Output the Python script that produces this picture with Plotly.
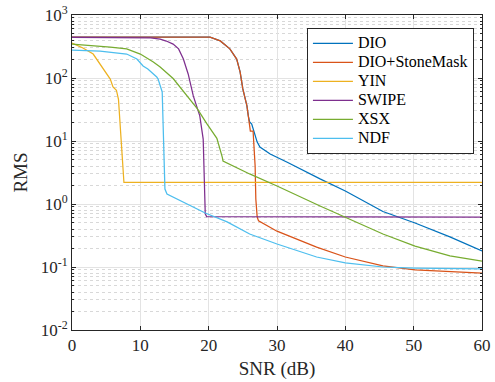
import plotly.graph_objects as go

# ---- data ----
dio_x = [0, 20, 20.2, 21.7, 23.1, 24.1, 24.6, 25.0, 25.6, 25.8, 26.0, 26.3, 26.5, 27.1, 27.5, 29, 31.5, 33.4, 36.3, 40, 45.5, 50.2, 55.3, 60]
dio_y = [447, 447, 445, 388, 290, 200, 125, 67, 36, 25, 20, 18.6, 15.5, 9.6, 8.0, 6.2, 4.6, 3.6, 2.5, 1.61, 0.76, 0.50, 0.30, 0.18]

dsm_x = [0, 20, 20.2, 21.7, 23.1, 24.1, 24.6, 25.0, 25.6, 25.8, 26.1, 26.5, 26.8, 26.9, 27.1, 27.3, 30, 35.8, 40, 45.5, 50.2, 60]
dsm_y = [447, 447, 445, 388, 290, 200, 125, 67, 36, 25, 14.4, 14.4, 4.0, 1.2, 0.62, 0.54, 0.37, 0.207, 0.144, 0.104, 0.090, 0.080]

yin_x = [0, 1.6, 3.1, 4.1, 4.8, 5.6, 6.0, 6.5, 6.8, 7.1, 7.4, 7.6, 60]
yin_y = [360, 299, 240, 167, 129, 96, 72, 64, 46, 13.9, 4.0, 2.2, 2.2]

swipe_x = [0, 10, 11.5, 12.9, 13.8, 14.8, 15.6, 16.3, 17.0, 17.75, 18.7, 19.2, 19.4, 19.5, 19.7, 60]
swipe_y = [440, 440, 435, 415, 386, 345, 290, 200, 116, 52, 25, 10.7, 1.7, 0.7, 0.63, 0.62]

xsx_x = [0, 2.6, 4.1, 5.6, 8.0, 10, 11.9, 12.9, 14.8, 16.3, 18.3, 19.7, 21.2, 22.0, 22.1, 26, 30, 36.3, 40, 45.5, 50.2, 55.3, 60]
xsx_y = [346, 333, 322, 310, 290, 240, 180, 150, 98, 62, 33, 19, 11, 5.5, 4.8, 3.0, 1.93, 0.93, 0.62, 0.334, 0.215, 0.15, 0.124]

ndf_x = [0, 4.1, 8.0, 9.5, 10.4, 11.1, 12.4, 12.6, 13.2, 13.3, 13.5, 13.55, 13.6, 13.9, 16.8, 19.5, 22.7, 26, 30, 35.8, 40, 45.5, 50.2, 60]
ndf_y = [278, 268, 240, 200, 155, 139, 104, 96, 60, 25, 7.5, 2.2, 1.73, 1.44, 1.0, 0.72, 0.52, 0.334, 0.232, 0.144, 0.116, 0.100, 0.096, 0.093]

names = ["DIO", "DIO+StoneMask", "YIN", "SWIPE", "XSX", "NDF"]
colors = ["#0072BD", "#D95319", "#EDB120", "#7E2F8E", "#77AC30", "#4DBEEE"]
series = [(dio_x, dio_y), (dsm_x, dsm_y), (yin_x, yin_y), (swipe_x, swipe_y), (xsx_x, xsx_y), (ndf_x, ndf_y)]

x_ticks = [0, 10, 20, 30, 40, 50, 60]
y_exps = [-2, -1, 0, 1, 2, 3]

fig = go.Figure()
for (xs, ys), n, c in zip(series, names, colors):
    fig.add_trace(go.Scatter(x=xs, y=ys, mode="lines",
                             name='<span style="font-size:16px">%s</span>' % n,
                             line=dict(color=c, width=1.25)))

font = "Liberation Serif"
axcol = "#262626"
fig.update_layout(
    width=495, height=382,
    margin=dict(l=72, r=13, t=15, b=52, autoexpand=False),
    paper_bgcolor="white", plot_bgcolor="white",
    font=dict(family=font, color=axcol, size=17),
    showlegend=True,
    legend=dict(x=0.573, y=0.959, xanchor="left", yanchor="top",
                bgcolor="white", bordercolor=axcol, borderwidth=1,
                font=dict(family=font, size=12.3, color="black"),
                itemwidth=40, tracegroupgap=0),
)
fig.update_xaxes(
    range=[0, 60], tickvals=x_ticks, ticktext=[str(v) for v in x_ticks],
    showline=True, linecolor=axcol, linewidth=1, mirror="ticks",
    ticks="inside", ticklen=4, tickcolor=axcol, automargin=False,
    showgrid=True, gridcolor="#e3e3e3", gridwidth=1, zeroline=False,
    title=dict(text="SNR (dB)", font=dict(size=19, family=font, color=axcol), standoff=7),
    tickfont=dict(size=17, family=font, color=axcol),
)
minor_vals = [k * 10 ** e for e in range(-2, 3) for k in range(2, 10)]
fig.update_yaxes(
    type="log", range=[-2, 3],
    tickvals=[10 ** e for e in y_exps],
    ticktext=["10<sup>%d</sup>" % e for e in y_exps],
    showline=True, linecolor=axcol, linewidth=1, mirror="ticks",
    ticks="inside", ticklen=4, tickcolor=axcol, automargin=False,
    showgrid=True, gridcolor="#e3e3e3", gridwidth=1, zeroline=False,
    minor=dict(tickmode="array", tickvals=minor_vals, ticks="inside", ticklen=2,
               tickcolor=axcol, showgrid=True, gridcolor="#d8d8d8", griddash="dot", gridwidth=1),
    title=dict(text="RMS", font=dict(size=19, family=font, color=axcol), standoff=8),
    tickfont=dict(size=17, family=font, color=axcol),
)

fig.write_html("out.html", config={"displayModeBar": False},
               post_script="document.body.style.margin='0';document.body.style.overflow='hidden';")
